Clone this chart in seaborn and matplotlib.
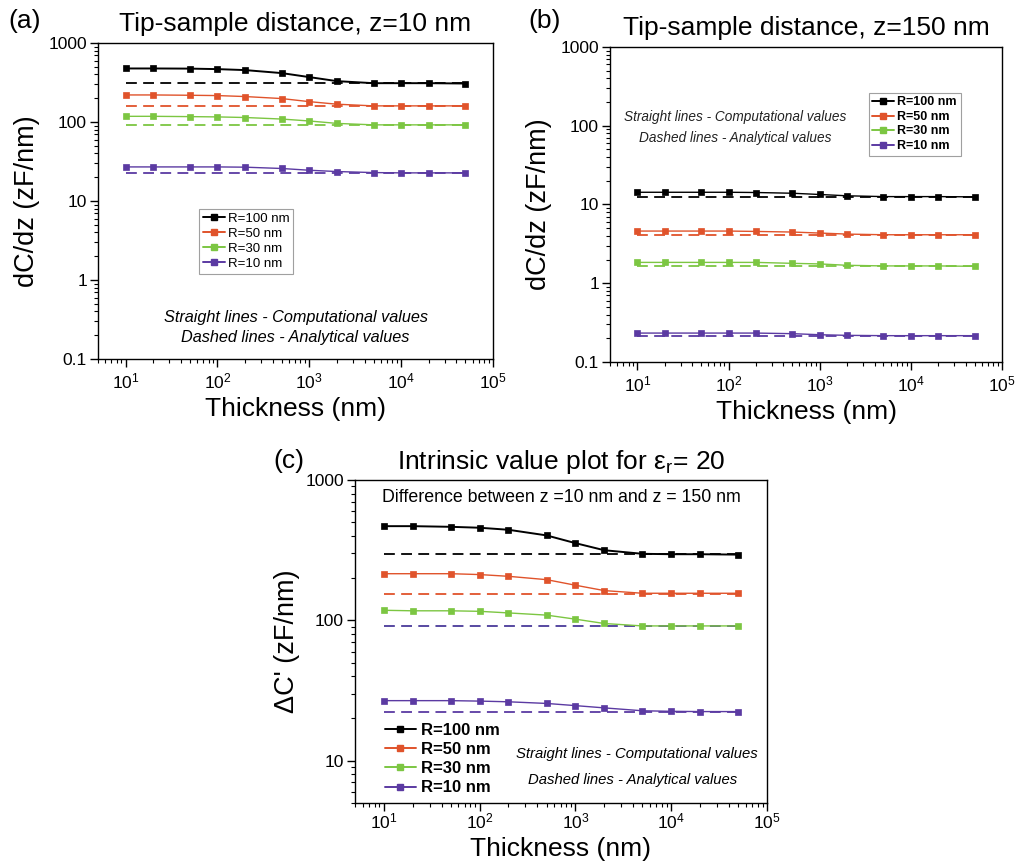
import numpy as np
import pandas as pd
import matplotlib
matplotlib.use("Agg")
import matplotlib.pyplot as plt
from matplotlib.lines import Line2D
from matplotlib.ticker import LogLocator, FixedLocator, FixedFormatter, NullFormatter
import seaborn as sns

sns.set_style("ticks")
plt.rcParams['font.family'] = ['Liberation Sans', 'DejaVu Sans']
plt.rcParams['mathtext.fontset'] = 'custom'
plt.rcParams['mathtext.rm'] = 'Liberation Sans'
plt.rcParams['mathtext.it'] = 'Liberation Sans:italic'
plt.rcParams['mathtext.bf'] = 'Liberation Sans:bold'
for k in ['text.color', 'axes.labelcolor', 'xtick.color', 'ytick.color',
          'xtick.labelcolor', 'ytick.labelcolor', 'axes.edgecolor']:
    plt.rcParams[k] = 'black'

# ---------------- data ----------------
thickness = [10, 20, 50, 100, 200, 500, 1000, 2000, 5000, 10000, 20000, 50000]
radii_labels = ["R=100 nm", "R=50 nm", "R=30 nm", "R=10 nm"]
colors = ["#000000", "#e0532b", "#7cc642", "#5b3aa2"]

# (a) z = 10 nm, computational
a_r100 = [476, 476, 474, 467, 454, 416, 370, 329, 310, 310, 310, 307]
a_r50 = [220, 220, 218, 216, 210, 198, 181, 168, 160, 160, 160, 160]
a_r30 = [118, 118, 117, 116, 114, 109, 103, 96, 92, 92, 92, 92]
a_r10 = [27.0, 27.0, 27.0, 27.0, 26.8, 25.8, 24.5, 23.6, 22.9, 22.7, 22.7, 22.7]
a_analytic = [310, 158, 91, 22.5]

# (b) z = 150 nm, computational
b_r100 = [14.3, 14.3, 14.3, 14.3, 14.2, 13.9, 13.4, 12.9, 12.6, 12.6, 12.6, 12.5]
b_r50 = [4.6, 4.6, 4.6, 4.6, 4.55, 4.47, 4.34, 4.21, 4.13, 4.13, 4.13, 4.13]
b_r30 = [1.84, 1.84, 1.84, 1.84, 1.84, 1.79, 1.76, 1.69, 1.66, 1.66, 1.66, 1.64]
b_r10 = [0.233, 0.233, 0.233, 0.233, 0.233, 0.229, 0.222, 0.218, 0.216, 0.216, 0.216, 0.216]
b_analytic = [12.5, 4.1, 1.66, 0.214]

# (c) difference, computational
c_r100 = [469, 469, 464, 457, 442, 403, 355, 316, 298, 296, 296, 294]
c_r50 = [215, 215, 215, 212, 206, 195, 178, 163, 156, 156, 156, 156]
c_r30 = [118, 117, 117, 116, 113, 109, 102, 95, 91.3, 91.3, 91.3, 91.3]
c_r10 = [26.8, 26.8, 26.8, 26.6, 26.3, 25.6, 24.7, 23.8, 22.7, 22.5, 22.4, 22.4]
c_analytic = [298, 155, 90.5, 22.4]
c_dash_colors = ["#000000", "#e0532b", "#4a3a9a", "#5b3aa2"]

x_ticks = [10, 100, 1000, 10000, 100000]
x_tick_labels = [r"$10^{1}$", r"$10^{2}$", r"$10^{3}$", r"$10^{4}$", r"$10^{5}$"]
y_ticks_ab = [0.1, 1, 10, 100, 1000]
y_tick_labels_ab = ["0.1", "1", "10", "100", "1000"]
y_ticks_c = [10, 100, 1000]
y_tick_labels_c = ["10", "100", "1000"]

fig = plt.figure(figsize=(10.16, 8.63), dpi=100)
ax_a = fig.add_axes([98/1016, 1-359/863, 395/1016, 316/863])
ax_b = fig.add_axes([610/1016, 1-362/863, 392/1016, 315/863])
ax_c = fig.add_axes([355/1016, 1-803/863, 412/1016, 323/863])


def draw(ax, series, analytic, dash_colors, lw_main):
    for i, (vals, c) in enumerate(zip(series, colors)):
        sns.lineplot(x=thickness, y=np.full(len(thickness), analytic[i]), ax=ax,
                     color=dash_colors[i], linewidth=1.3, zorder=2)
        ax.lines[-1].set_dashes([6, 3.5])
        sns.lineplot(x=thickness, y=vals, ax=ax, color=c, linewidth=lw_main if i == 0 else 1.0,
                     marker='s', markersize=5, markeredgecolor=c, markeredgewidth=0.5, zorder=3)


def style(ax, yticks, ylabels, ylim, xpad, xlabelpad):
    ax.set_xscale('log')
    ax.set_yscale('log')
    ax.set_xlim(5, 1e5)
    ax.set_ylim(*ylim)
    ax.xaxis.set_major_locator(FixedLocator(x_ticks))
    ax.xaxis.set_major_formatter(FixedFormatter(x_tick_labels))
    ax.xaxis.set_minor_locator(LogLocator(base=10, subs=np.arange(2, 10), numticks=20))
    ax.xaxis.set_minor_formatter(NullFormatter())
    ax.yaxis.set_major_locator(FixedLocator(yticks))
    ax.yaxis.set_major_formatter(FixedFormatter(ylabels))
    ax.yaxis.set_minor_locator(LogLocator(base=10, subs=np.arange(2, 10), numticks=20))
    ax.yaxis.set_minor_formatter(NullFormatter())
    ax.tick_params(which='major', direction='out', length=6, width=1.0, labelsize=12.5, pad=2,
                   color='black')
    ax.tick_params(axis='x', which='major', pad=xpad)
    ax.tick_params(which='minor', direction='out', length=3, width=0.8, color='black')
    for s in ax.spines.values():
        s.set_linewidth(1.0)
        s.set_color('black')
    ax.set_xlabel("Thickness (nm)", fontsize=19, labelpad=xlabelpad)


draw(ax_a, [a_r100, a_r50, a_r30, a_r10], a_analytic, colors, 1.4)
draw(ax_b, [b_r100, b_r50, b_r30, b_r10], b_analytic, colors, 1.0)
draw(ax_c, [c_r100, c_r50, c_r30, c_r10], c_analytic, c_dash_colors, 1.4)

style(ax_a, y_ticks_ab, y_tick_labels_ab, (0.1, 1000), 3, 4)
style(ax_b, y_ticks_ab, y_tick_labels_ab, (0.1, 1000), 3, 4)
style(ax_c, y_ticks_c, y_tick_labels_c, (5, 1000), 0, 4)

ax_a.set_ylabel("dC/dz (zF/nm)", fontsize=19.5, labelpad=6)
ax_b.set_ylabel("dC/dz (zF/nm)", fontsize=19.5, labelpad=6)
ax_c.set_ylabel("ΔC' (zF/nm)", fontsize=19.5, labelpad=4)

ax_a.set_title("Tip-sample distance, z=10 nm", fontsize=19, pad=9)
ax_b.set_title("Tip-sample distance, z=150 nm", fontsize=19, pad=9)
ax_c.set_title("Intrinsic value plot for ε$_{\\mathrm{r}}$= 20", fontsize=19, pad=8)

fig.text(8/1016, 1-21/863, "(a)", fontsize=19, va='center', ha='left')
fig.text(528/1016, 1-21/863, "(b)", fontsize=19, va='center', ha='left')
fig.text(273/1016, 1-461/863, "(c)", fontsize=19, va='center', ha='left')

handles = [Line2D([0], [0], color=c, lw=1.4, marker='s', markersize=4) for c in colors]

leg_a = ax_a.legend(handles, radii_labels, loc='upper left', bbox_to_anchor=(0.255, 0.475),
                    fontsize=9.5, frameon=True, fancybox=False, handlelength=1.7,
                    handletextpad=0.2, borderpad=0.3, labelspacing=0.2, borderaxespad=0)
leg_a.get_frame().set_edgecolor('#888888')
leg_a.get_frame().set_linewidth(0.8)

leg_b = ax_b.legend(handles, radii_labels, loc='upper left', bbox_to_anchor=(0.66, 0.855),
                    prop={'size': 9, 'weight': 'bold'}, frameon=True, fancybox=False,
                    handlelength=1.7, handletextpad=0.3, borderpad=0.3, labelspacing=0.2,
                    borderaxespad=0)
leg_b.get_frame().set_edgecolor('#888888')
leg_b.get_frame().set_linewidth(0.8)

leg_c = ax_c.legend(handles, radii_labels, loc='upper left', bbox_to_anchor=(0.072, 0.248),
                    prop={'size': 12, 'weight': 'bold'}, frameon=False,
                    handlelength=1.9, handletextpad=0.3, labelspacing=0.25, borderaxespad=0,
                    borderpad=0)

ax_a.text(0.5, 0.10, "Straight lines - Computational values\nDashed lines - Analytical values",
          transform=ax_a.transAxes, ha='center', va='center', fontsize=11.7, style='italic',
          linespacing=1.45)
ax_b.text(0.32, 0.745, "Straight lines - Computational values\nDashed lines - Analytical values",
          transform=ax_b.transAxes, ha='center', va='center', fontsize=9.8, style='italic',
          linespacing=1.6, color='#222222')
ax_c.text(0.5, 0.945, "Difference between z =10 nm and z = 150 nm", transform=ax_c.transAxes,
          ha='center', va='center', fontsize=12.8)
ax_c.text(0.683, (803-754)/323, "Straight lines - Computational values",
          transform=ax_c.transAxes, ha='center', va='center', fontsize=10.7, style='italic')
ax_c.text(0.673, (803-780)/323, "Dashed lines - Analytical values",
          transform=ax_c.transAxes, ha='center', va='center', fontsize=10.7, style='italic')

fig.savefig("out.png", dpi=100)
